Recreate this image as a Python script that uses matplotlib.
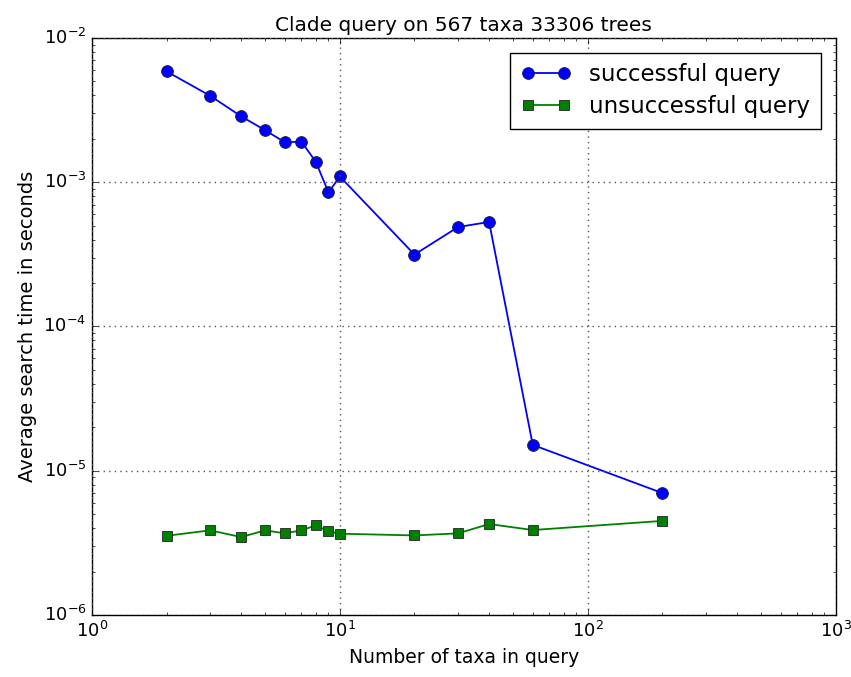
import matplotlib
matplotlib.use("Agg")
import matplotlib.pyplot as plt

plt.style.use("classic")
plt.rcParams["axes.unicode_minus"] = False
plt.rcParams["font.family"] = ["DejaVu Sans"]

n_taxa = [2, 3, 4, 5, 6, 7, 8, 9, 10, 20, 30, 40, 60, 200]
successful = [5.86e-3, 3.97e-3, 2.86e-3, 2.29e-3, 1.89e-3, 1.91e-3, 1.385e-3,
              8.5e-4, 1.095e-3, 3.15e-4, 4.89e-4, 5.3e-4, 1.51e-5, 7.0e-6]
unsuccessful = [3.54e-6, 3.86e-6, 3.47e-6, 3.86e-6, 3.68e-6, 3.86e-6, 4.18e-6,
                3.80e-6, 3.66e-6, 3.56e-6, 3.68e-6, 4.27e-6, 3.88e-6, 4.49e-6]

fig = plt.figure(figsize=(8.51, 6.77), dpi=100, facecolor="white")
ax = fig.add_axes([0.108, 0.0916, 0.874, 0.8524])

ax.plot(n_taxa, successful, "o-", color="blue", markersize=8.5, linewidth=1.3,
        markeredgecolor="#222222", markeredgewidth=0.6, label="successful query")
ax.plot(n_taxa, unsuccessful, "s-", color="green", markersize=7.5, linewidth=1.3,
        markeredgecolor="#222222", markeredgewidth=0.6, label="unsuccessful query")

ax.set_xscale("log")
ax.set_yscale("log")
ax.set_xlim(1, 1000)
ax.set_ylim(1e-6, 1e-2)
ax.grid(True, which="major", color="#555555", linestyle=":", linewidth=1.0)

ax.set_title("Clade query on 567 taxa 33306 trees", fontsize=14.5)
ax.set_xlabel("Number of taxa in query", fontsize=13.5)
ax.set_ylabel("Average search time in seconds", fontsize=14)
ax.tick_params(labelsize=13)

leg = ax.legend(loc="upper right", fontsize=16.5, numpoints=2,
                handlelength=2.2, borderpad=0.45, labelspacing=0.4,
                borderaxespad=0.65)
leg.get_frame().set_linewidth(1.0)

fig.savefig("out.png", dpi=100, facecolor="white")
